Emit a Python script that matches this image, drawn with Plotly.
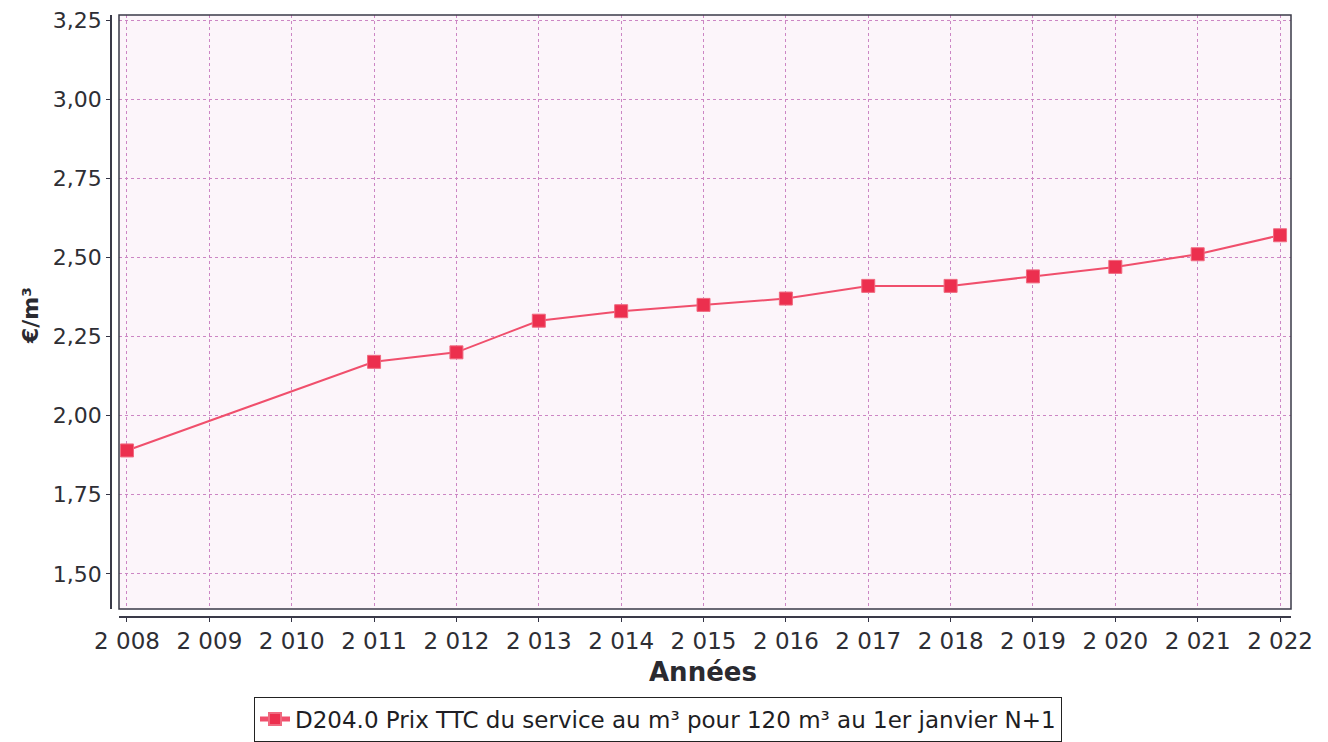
import plotly.graph_objects as go

years = [2008, 2011, 2012, 2013, 2014, 2015, 2016, 2017, 2018, 2019, 2020, 2021, 2022]
prices = [1.89, 2.17, 2.20, 2.30, 2.33, 2.35, 2.37, 2.41, 2.41, 2.44, 2.47, 2.51, 2.57]
series_name = "D204.0 Prix TTC du service au m³ pour 120 m³ au 1er janvier N+1"

x_tickvals = list(range(2008, 2023))
x_ticktext = ["2 008", "2 009", "2 010", "2 011", "2 012", "2 013", "2 014", "2 015",
              "2 016", "2 017", "2 018", "2 019", "2 020", "2 021", "2 022"]
y_tickvals = [1.50, 1.75, 2.00, 2.25, 2.50, 2.75, 3.00, 3.25]
y_ticktext = ["1,50", "1,75", "2,00", "2,25", "2,50", "2,75", "3,00", "3,25"]

W, H = 1328, 742
OFF = 8  # page offset of the figure div
ML, MR, MT, MB = 111 - OFF, 45, 15 - OFF, H - (617 - OFF)
PW = W - ML - MR
PH = H - MT - MB
x0 = 8 / PW
y0 = 8 / PH


def px(xp):
    return (xp - OFF - ML) / PW


def py(yp):
    return (H - MB - (yp - OFF)) / PH


fig = go.Figure()
fig.add_trace(go.Scatter(
    x=years, y=prices, mode="lines+markers", name=series_name,
    line=dict(color="#f04f6c", width=2),
    marker=dict(symbol="square", size=13, color="#ec2f4e",
                line=dict(color="#f06a80", width=1)),
))

grid = dict(showgrid=True, gridcolor="#cc86c4", gridwidth=1, griddash="3px,3px")

fig.update_layout(
    width=W, height=H,
    margin=dict(l=ML, r=MR, t=MT, b=MB, autoexpand=False),
    paper_bgcolor="white",
    plot_bgcolor="#fcf5fa",
    font=dict(family="DejaVu Sans", color="#2e2e34", size=22),
    showlegend=True,
    legend=dict(
        xref="paper", yref="paper",
        x=px(658), y=py(719), xanchor="center", yanchor="middle",
        bordercolor="#222222", borderwidth=1, bgcolor="white",
        font=dict(size=23, color="#1e1e24"),
        itemsizing="constant", itemwidth=30,
    ),
    xaxis=dict(
        domain=[x0, 1], anchor="free", position=0,
        range=[2007.903, 2022.133],
        tickvals=x_tickvals, ticktext=x_ticktext, tickangle=0,
        ticks="outside", ticklen=4, tickcolor="#333344",
        showline=True, linecolor="#3a3a48", linewidth=1.5,
        zeroline=False, tickfont=dict(size=23), ticklabeloverflow="allow",
        **grid,
    ),
    yaxis=dict(
        domain=[y0, 1], anchor="free", position=0,
        range=[1.389, 3.266],
        tickvals=y_tickvals, ticktext=y_ticktext,
        ticks="outside", ticklen=4, tickcolor="#333344",
        showline=True, linecolor="#3a3a48", linewidth=1.5,
        zeroline=False, tickfont=dict(size=22), ticklabeloverflow="allow",
        **grid,
    ),
    shapes=[dict(type="rect", xref="paper", yref="paper",
                 x0=x0, x1=1, y0=y0, y1=1,
                 line=dict(color="#3a3a48", width=1.5), layer="above")],
    annotations=[
        dict(text="<b>Années</b>", xref="paper", yref="paper",
             x=px(703), y=py(672),
             xanchor="center", yanchor="middle", showarrow=False,
             font=dict(size=26, color="#2a2a30")),
        dict(text="<b>€/m³</b>", xref="paper", yref="paper",
             x=px(30), y=py(316), textangle=-90,
             xanchor="center", yanchor="middle", showarrow=False,
             font=dict(size=22, color="#2a2a30")),
    ],
)

fig.write_html("out.html")
